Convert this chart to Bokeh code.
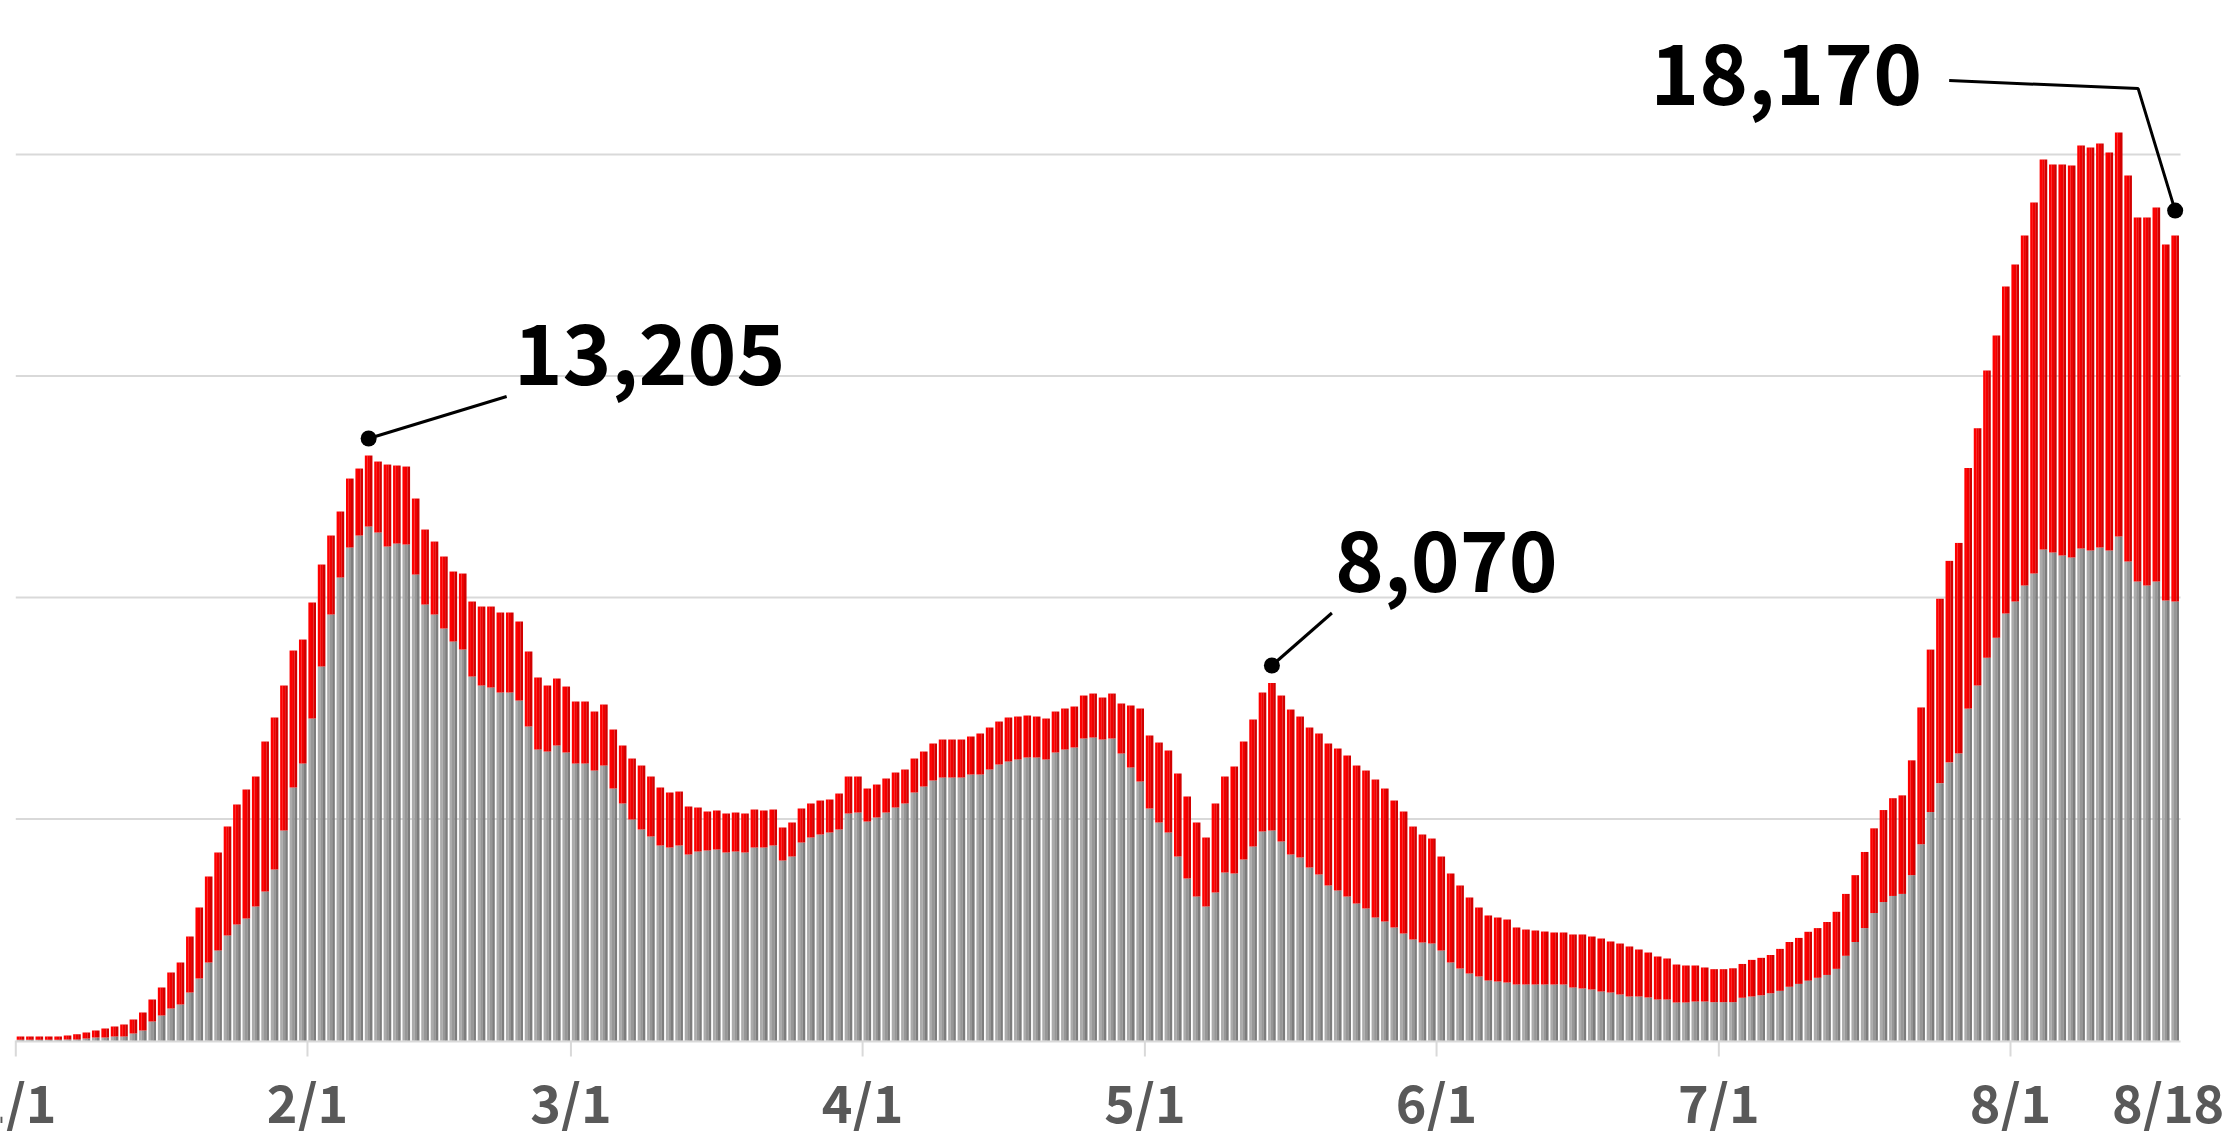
import numpy as np
from bokeh.plotting import figure
from bokeh.models import Range1d, Label
from bokeh.core.properties import value
from bokeh.embed import file_html
from bokeh.resources import INLINE

# ---------------- data ----------------
# day index 0 = 1/1 ... 229 = 8/18 ; stack top (total) and grey lower part
total = [
    90, 90, 90, 90, 90, 113, 143, 181, 226, 271,
    316, 361, 474, 632, 925, 1196, 1535, 1761, 2347, 3002,
    3702, 4244, 4830, 5327, 5666, 5959, 6749, 7291, 8013, 8803,
    9051, 9887, 10744, 11399, 11941, 12685, 12911, 13205, 13069, 13001,
    12979, 12956, 12234, 11534, 11263, 10925, 10586, 10541, 9909, 9796,
    9796, 9661, 9661, 9458, 8781, 8194, 8013, 8171, 7990, 7652,
    7652, 7426, 7584, 7020, 6659, 6365, 6207, 5959, 5711, 5598,
    5620, 5282, 5259, 5169, 5192, 5124, 5146, 5124, 5214, 5192,
    5214, 4808, 4921, 5237, 5350, 5417, 5440, 5575, 5959, 5959,
    5688, 5778, 5914, 6049, 6117, 6365, 6523, 6704, 6794, 6794,
    6794, 6862, 6930, 7065, 7200, 7291, 7313, 7336, 7313, 7268,
    7426, 7494, 7539, 7787, 7832, 7742, 7832, 7607, 7562, 7494,
    6885, 6726, 6546, 6027, 5508, 4921, 4582, 5350, 5959, 6185,
    6749, 7246, 7855, 8070, 7787, 7471, 7313, 7065, 6930, 6704,
    6591, 6433, 6207, 6094, 5891, 5688, 5417, 5169, 4830, 4650,
    4559, 4153, 3770, 3499, 3228, 3002, 2822, 2776, 2731, 2551,
    2505, 2483, 2460, 2438, 2438, 2393, 2393, 2347, 2302, 2235,
    2189, 2122, 2054, 1986, 1896, 1851, 1715, 1693, 1693, 1648,
    1610, 1610, 1630, 1728, 1820, 1866, 1930, 2068, 2224, 2316,
    2454, 2537, 2675, 2905, 3309, 3732, 4256, 4789, 5202, 5469,
    5533, 6324, 7518, 8824, 9972, 10827, 11232, 12923, 13823, 15123,
    15913, 17019, 17516, 18170, 18915, 19886, 19773, 19773, 19750, 20202,
    20157, 20247, 20044, 20496, 19525, 18577, 18577, 18803, 17967, 18170,
]
gray = [
    15, 15, 15, 15, 15, 23, 23, 45, 68, 68,
    90, 90, 158, 226, 429, 564, 722, 813, 1083, 1399,
    1761, 2031, 2370, 2618, 2754, 3025, 3363, 3860, 4740, 5711,
    6252, 7268, 8442, 9616, 10451, 11128, 11399, 11602, 11467, 11151,
    11218, 11196, 10518, 9841, 9616, 9300, 9006, 8826, 8216, 8013,
    7968, 7855, 7855, 7674, 7088, 6568, 6523, 6659, 6501, 6252,
    6252, 6094, 6207, 5688, 5350, 4988, 4763, 4605, 4402, 4356,
    4402, 4198, 4266, 4289, 4311, 4244, 4266, 4244, 4356, 4356,
    4402, 4063, 4153, 4469, 4582, 4650, 4695, 4763, 5124, 5146,
    4943, 5034, 5146, 5259, 5350, 5598, 5733, 5869, 5936, 5936,
    5936, 6004, 6004, 6117, 6230, 6298, 6343, 6388, 6388, 6343,
    6501, 6568, 6614, 6817, 6839, 6794, 6817, 6478, 6162, 5846,
    5237, 4921, 4695, 4153, 3657, 3250, 3025, 3341, 3792, 3770,
    4086, 4379, 4718, 4740, 4492, 4198, 4131, 3905, 3747, 3499,
    3386, 3250, 3092, 2980, 2776, 2686, 2551, 2415, 2280, 2212,
    2189, 2031, 1761, 1625, 1512, 1445, 1354, 1332, 1309, 1264,
    1264, 1264, 1264, 1264, 1264, 1196, 1174, 1151, 1106, 1083,
    1038, 993, 993, 971, 925, 925, 858, 858, 880, 880,
    865, 865, 865, 965, 993, 1020, 1066, 1121, 1213, 1278,
    1351, 1416, 1480, 1618, 1912, 2224, 2537, 2877, 3125, 3263,
    3309, 3732, 4430, 5156, 5809, 6278, 6480, 7491, 8015, 8640,
    9090, 9638, 9909, 10270, 10541, 11083, 11015, 10948, 10902, 11105,
    11060, 11128, 11060, 11376, 10812, 10361, 10270, 10361, 9932, 9909,
]
tick_days = [0, 31, 59, 90, 120, 151, 181, 212]
tick_labels = ["1/1", "2/1", "3/1", "4/1", "5/1", "6/1", "7/1", "8/1"]
end_day = 229
end_label = "8/18"
grid_values = [5000, 10000, 15000, 20000]
annotated_days = [37, 133, 229]

# ---------------- layout helpers ----------------
W, H = 2228, 1131
PX_PER_DAY = 9.409
PX_PER_UNIT = 221.5 / 5000.0
LEFT_PX = 15.3     # canvas px from left to the left edge of day 0
BASE_PX = 1040.0   # canvas px from top to the zero line


def dx(px):
    return px / PX_PER_DAY


def dy(px):
    return px / PX_PER_UNIT


x0 = -0.5 - dx(LEFT_PX)
x1 = x0 + dx(W)
y1 = dy(BASE_PX)
y0 = y1 - dy(H)

n = len(total)
days = np.arange(n)
tot = np.array(total, dtype=float)
gr = np.array(gray, dtype=float)

p = figure(width=W, height=H, x_range=Range1d(x0, x1), y_range=Range1d(y0, y1),
           output_backend="svg", toolbar_location=None,
           x_axis_location=None, y_axis_location=None, min_border=0)
p.grid.visible = False
p.outline_line_color = None
p.background_fill_color = "white"
p.border_fill_color = "white"

grid_x_end = n - 0.5 + 0.07
GRID = "#d9d9d9"
# horizontal grid lines
p.segment(x0=[-0.5] * len(grid_values), x1=[grid_x_end] * len(grid_values),
          y0=grid_values, y1=grid_values, line_color=GRID, line_width=2)
# base line and month ticks
p.segment(x0=[-0.5], x1=[grid_x_end], y0=[-dy(1)], y1=[-dy(1)], line_color=GRID, line_width=2)
tx = [d - 0.5 for d in tick_days]
p.segment(x0=tx, x1=tx, y0=[0] * len(tx), y1=[-dy(16)] * len(tx), line_color=GRID, line_width=2)

# bars, each drawn as three strips to imitate the shading
BAR_W = 0.8
strip_w = BAR_W / 3.0
offsets = [-strip_w, 0.0, strip_w]
gray_cols = ["#ababab", "#979797", "#7d7d7d"]
red_cols = ["#ff0000", "#f00000", "#d20000"]
for off, gc, rc in zip(offsets, gray_cols, red_cols):
    p.vbar(x=days + off, width=strip_w + 0.01, bottom=0, top=gr,
           fill_color=gc, line_color=None)
    p.vbar(x=days + off, width=strip_w + 0.01, bottom=gr, top=tot,
           fill_color=rc, line_color=None)

# x tick labels
FONT = "Noto Sans CJK JP"
label_y = -dy(60)
p.text(x=tx, y=[label_y] * len(tx), text=tick_labels,
       text_font=value(FONT), text_font_style="bold", text_font_size="52px",
       text_color="#595959", text_align="center", text_baseline="alphabetic")
p.text(x=[end_day - dx(7)], y=[label_y], text=[end_label],
       text_font=value(FONT), text_font_style="bold", text_font_size="52px",
       text_color="#595959", text_align="center", text_baseline="alphabetic")

# annotations: (dot offset up px, leader polyline px offsets, text offset px, align)
ann_style = {
    37: (17, [(0, 17), (138, 59)], (145, 101), "left"),
    133: (17.5, [(0, 17.5), (60, 70)], (63, 121), "left"),
    229: (25, [(0, 25), (-37, 147), (-226, 155)], (-253, 161), "right"),
}
for d in annotated_days:
    dot_up, pts, (tox, toy), align = ann_style[d]
    bx, by = float(d), float(total[d])
    p.line(x=[bx + dx(a) for a, b in pts], y=[by + dy(b) for a, b in pts],
           line_color="black", line_width=3)
    p.scatter(x=[bx], y=[by + dy(dot_up)], size=16, fill_color="black", line_color=None)
    p.add_layout(Label(x=bx + dx(tox), y=by + dy(toy), text=f"{total[d]:,}",
                       text_font=FONT, text_font_style="bold", text_font_size="83px",
                       text_color="black", text_align=align, text_baseline="alphabetic"))

open("out.html", "w").write(file_html(p, INLINE))
